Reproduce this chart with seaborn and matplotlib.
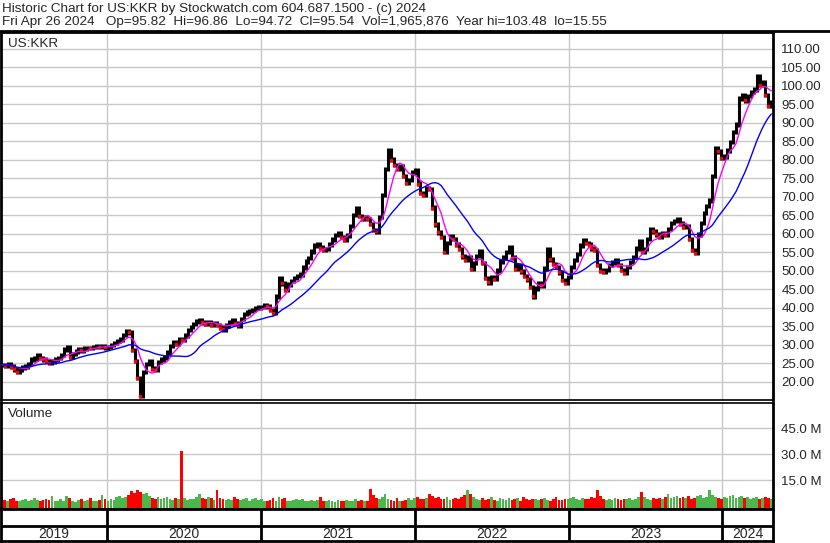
import pandas as pd
import numpy as np
import matplotlib
matplotlib.use('Agg')
import matplotlib.pyplot as plt
import matplotlib.lines as mlines
import seaborn as sns

sns.set_style("white")
plt.rcParams['font.family'] = ['Liberation Sans', 'DejaVu Sans']

# weekly closes (one value per Friday, from 2019-04-26)
close_2019 = [24.5, 24.2, 24.6, 24.0, 23.3, 22.6, 23.2, 23.8, 24.1, 24.8,
              25.9, 26.2, 27.1, 26.4, 26.0, 25.5, 25.0, 25.4, 25.9, 26.3,
              27.2, 28.6, 29.3, 26.6, 27.4, 28.1, 28.6, 28.4, 28.9, 29.1,
              29.0, 29.4, 29.6, 29.3, 29.5, 29.2]
close_2020 = [29.4, 29.8, 30.4, 31.0, 31.4, 32.6, 33.5, 33.3, 28.5, 25.5,
              21.0, 16.2, 22.5, 24.8, 25.5, 23.5, 23.1, 25.2, 26.0, 26.5,
              27.8, 29.6, 30.6, 30.2, 31.5, 31.3, 32.4, 34.0, 34.8, 35.5,
              36.2, 36.6, 36.0, 35.6, 35.9, 35.4, 35.7, 35.3, 34.6, 34.1,
              35.2, 36.0, 36.6, 35.8, 35.2, 36.9, 38.2, 38.6, 39.0, 39.3,
              39.8, 40.0]
close_2021 = [40.2, 40.5, 40.3, 39.4, 38.6, 43.0, 48.0, 46.5, 44.8, 46.2,
              47.1, 48.0, 48.6, 48.9, 50.8, 52.5, 53.4, 55.2, 56.8, 57.2,
              56.2, 55.5, 55.8, 57.0, 58.4, 59.6, 60.2, 59.0, 58.2, 59.5,
              62.0, 65.0, 66.8, 64.8, 64.0, 64.5, 64.0, 62.6, 61.0, 60.6,
              64.5, 70.5, 77.5, 82.5, 80.0, 78.5, 77.5, 78.2, 75.5, 73.8,
              74.5, 76.5]
close_2022 = [77.0, 73.5, 71.0, 70.5, 72.3, 72.0, 67.0, 62.5, 60.3, 59.1,
              55.0, 57.5, 59.2, 58.6, 57.0, 55.8, 53.8, 52.8, 53.5, 50.5,
              52.0, 54.0, 55.2, 52.0, 48.0, 46.8, 48.3, 47.8, 50.0, 52.5,
              53.5, 55.0, 56.4, 53.5, 50.5, 51.5, 49.8, 48.5, 47.6, 45.5,
              43.0, 45.2, 46.5, 46.0, 50.5, 55.8, 53.0, 51.8, 51.0, 49.5,
              47.5, 46.6]
close_2023 = [48.2, 51.0, 52.8, 54.5, 56.8, 58.2, 57.5, 57.0, 56.0, 55.5,
              51.5, 50.0, 49.6, 50.2, 51.5, 52.2, 52.8, 51.5, 50.2, 49.4,
              51.0, 52.3, 53.6, 56.0, 57.8, 55.0, 55.8, 58.6, 61.2, 60.6,
              59.8, 59.0, 60.2, 59.6, 61.3, 62.8, 63.4, 64.0, 62.7, 61.8,
              62.0, 58.5, 55.6, 54.8, 59.8, 62.8, 65.5, 67.5, 69.0, 75.5,
              83.0, 82.2]
close_2024 = [80.5, 80.8, 82.5, 84.8, 87.5, 89.5, 96.5, 97.5, 96.0, 97.2,
              98.3, 99.0, 102.5, 100.2, 101.0, 97.5, 94.5, 95.5]

# volume in millions of shares (typical daily bar height for each week)
vol_2019 = [4.2, 3.5, 3.0, 3.8, 4.5, 3.2, 2.8, 3.6, 4.0, 3.1,
            3.5, 4.8, 3.3, 2.9, 3.7, 4.1, 3.4, 5.8, 3.2, 2.7,
            3.9, 3.0, 5.8, 4.4, 3.1, 2.6, 3.4, 3.8, 2.9, 3.3,
            4.6, 3.0, 2.7, 3.5, 6.5, 4.0]
vol_2020 = [3.0, 4.2, 3.6, 5.0, 6.0, 4.5, 5.2, 6.4, 8.5, 7.8,
            9.2, 8.0, 6.8, 7.5, 5.6, 4.8, 4.2, 5.0, 3.8, 4.6,
            5.3, 4.0, 3.6, 4.4, 3.9, 31.7, 4.8, 3.5, 4.2, 3.8,
            5.5, 7.0, 4.6, 3.9, 5.2, 4.4, 3.6, 9.0, 4.8, 4.0,
            3.5, 4.2, 3.7, 5.0, 4.1, 3.4, 3.9, 4.6, 3.2, 3.8,
            4.9, 3.3]
vol_2021 = [4.0, 3.2, 2.9, 3.6, 4.4, 3.1, 5.2, 3.8, 4.5, 3.0,
            2.8, 3.5, 3.9, 3.3, 4.1, 2.7, 3.0, 3.6, 2.9, 3.4,
            5.0, 3.2, 2.8, 3.7, 3.1, 2.6, 3.3, 3.0, 2.8, 3.5,
            2.9, 3.2, 4.0, 3.1, 3.6, 2.8, 3.0, 10.0, 6.5, 4.8,
            3.9, 5.2, 7.0, 4.3, 3.6, 3.2, 4.4, 3.0, 2.9, 3.7,
            4.5, 3.3]
vol_2022 = [4.8, 5.5, 4.2, 3.9, 4.6, 7.0, 5.8, 4.4, 5.0, 3.8,
            4.3, 5.2, 3.6, 4.1, 4.7, 3.9, 5.4, 6.2, 9.5, 6.8,
            5.0, 4.2, 3.7, 4.5, 3.3, 4.0, 5.1, 3.6, 3.2, 4.4,
            3.8, 3.5, 4.9, 3.4, 3.9, 4.6, 3.1, 5.0, 4.2, 3.5,
            3.8, 4.3, 3.4, 3.9, 4.5, 3.6, 3.0, 4.2, 5.3, 3.7,
            3.3, 4.0]
vol_2023 = [3.8, 4.5, 5.2, 4.0, 3.6, 4.8, 4.2, 3.9, 5.0, 4.4,
            9.5, 5.6, 4.1, 3.7, 4.3, 3.5, 4.6, 3.9, 3.3, 4.2,
            3.8, 4.7, 3.4, 4.0, 5.1, 8.0, 5.3, 4.1, 3.6, 4.4,
            3.9, 4.8, 4.2, 5.5, 7.0, 4.6, 5.2, 6.0, 4.4, 5.0,
            4.5, 5.8, 4.3, 4.9, 5.6, 6.2, 4.8, 5.4, 9.5, 6.5,
            5.0, 4.6]
vol_2024 = [4.2, 5.0, 4.5, 5.6, 6.5, 4.8, 5.3, 6.0, 4.4, 5.1,
            3.9, 4.6, 5.2, 4.1, 4.8, 5.5, 4.5, 3.8]

years = ['2019', '2020', '2021', '2022', '2023', '2024']
price_ticks = list(range(20, 111, 5))
vol_ticks = [15, 30, 45]

closes = close_2019 + close_2020 + close_2021 + close_2022 + close_2023 + close_2024
volumes = vol_2019 + vol_2020 + vol_2021 + vol_2022 + vol_2023 + vol_2024

df = pd.DataFrame({
    'date': pd.date_range('2019-04-26', periods=len(closes), freq='W-FRI'),
    'close': closes,
    'vol': volumes,
})
df['prev'] = df['close'].shift(1).fillna(df['close'])
df['lo'] = df[['prev', 'close']].min(axis=1)
df['hi'] = df[['prev', 'close']].max(axis=1)
df['ma_fast'] = df['close'].rolling(6, min_periods=1).mean()
df['ma_slow'] = df['close'].rolling(20, min_periods=1).mean()
df['up'] = df['close'] >= df['prev']

W, H = 830, 543
fig = plt.figure(figsize=(W / 100, H / 100), dpi=100)


def box(x0, y0, x1, y1):
    return [x0 / W, 1 - y1 / H, (x1 - x0) / W, (y1 - y0) / H]


ax = fig.add_axes(box(1, 32, 773, 400))
axv = fig.add_axes(box(1, 403, 773, 509))
axy = fig.add_axes(box(1, 509, 773, 541))

x0, x1 = pd.Timestamp('2019-04-24'), pd.Timestamp('2024-04-30')
year_starts = [pd.Timestamp(f'{y}-01-01') for y in years[1:]]
grid_c = '#c8c8c8'

# 价格面板
for y in range(15, 115, 5):
    ax.axhline(y, color=grid_c, lw=1, zorder=0)
for d in year_starts:
    ax.axvline(d, color=grid_c, lw=1, zorder=0)
ax.vlines(df['date'], df['lo'] - 0.6, df['hi'] + 0.6, color='black', lw=2.2, zorder=2)
dn = df[~df['up']]
ax.plot(dn['date'], dn['close'], 's', ms=1.5, color='red', zorder=3)
sns.lineplot(data=df, x='date', y='ma_fast', color='#ff00ff', lw=1, ax=ax, zorder=4)
sns.lineplot(data=df, x='date', y='ma_slow', color='#0000ff', lw=1, ax=ax, zorder=4)
ax.set_xlim(x0, x1)
ax.set_ylim(15, 114.5)
ax.yaxis.tick_right()
ax.set_yticks(price_ticks)
ax.set_yticklabels([f'{t:.2f}' for t in price_ticks], fontsize=9.5)
ax.tick_params(axis='y', length=0, pad=6)
ax.set_xticks([])
ax.set_xlabel('')
ax.set_ylabel('')
ax.text(0.009, 0.985, 'US:KKR', transform=ax.transAxes, fontsize=9.7, va='top', ha='left')

# 成交量面板 (零线略高于底边)
vbase = -1.7
for y in vol_ticks:
    axv.axhline(y, color=grid_c, lw=1, zorder=0)
for d in year_starts:
    axv.axvline(d, color=grid_c, lw=1, zorder=0)
bar_colors = np.where(df['up'], '#4cb84c', '#ff0000')
axv.bar(df['date'], df['vol'] - vbase, bottom=vbase, width=6.5, color=bar_colors,
        linewidth=0, zorder=2)
axv.set_xlim(x0, x1)
axv.set_ylim(vbase, 59.5)
axv.yaxis.tick_right()
axv.set_yticks(vol_ticks)
axv.set_yticklabels([f'{t:.1f} M' for t in vol_ticks], fontsize=9.5)
axv.tick_params(axis='y', length=0, pad=6)
axv.set_xticks([])
axv.set_xlabel('')
axv.set_ylabel('')
axv.text(0.009, 0.95, 'Volume', transform=axv.transAxes, fontsize=9.7, va='top', ha='left')

# 年份条
axy.set_xlim(x0, x1)
axy.set_ylim(0, 32)
axy.axhline(15, color='black', lw=2)
for d in year_starts:
    axy.axvline(d, color='black', lw=2)
edges = [x0] + year_starts + [x1]
for i, y in enumerate(years):
    mid = edges[i] + (edges[i + 1] - edges[i]) / 2
    axy.text(mid, 7, y, ha='center', va='center', fontsize=10)
axy.set_xticks([])
axy.set_yticks([])

for a in (ax, axv, axy):
    for s in a.spines.values():
        s.set_color('black')
        s.set_linewidth(2)
ax.spines['bottom'].set_linewidth(1.2)
axv.spines['top'].set_linewidth(1.2)

# 标题
fig.text(2 / W, 1 - 9 / H, 'Historic Chart for US:KKR by Stockwatch.com 604.687.1500 - (c) 2024',
         fontsize=9.7, va='center', ha='left')
fig.text(2 / W, 1 - 22 / H,
         'Fri Apr 26 2024   Op=95.82  Hi=96.86  Lo=94.72  Cl=95.54  Vol=1,965,876  Year hi=103.48  lo=15.55',
         fontsize=9.7, va='center', ha='left')
fig.add_artist(mlines.Line2D([0, 1], [1 - 31 / H, 1 - 31 / H], color='black', lw=2))

plt.savefig('out.png', dpi=100)
